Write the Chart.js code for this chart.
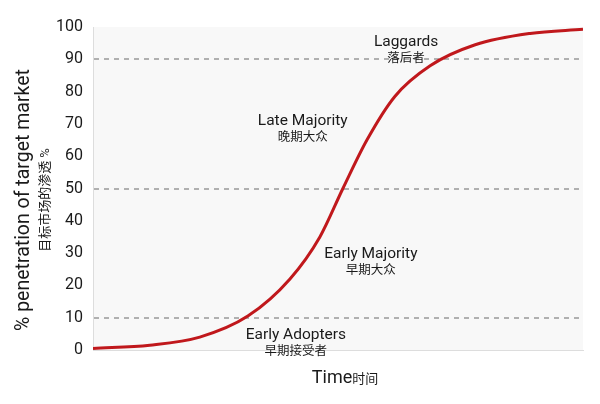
<!DOCTYPE html>
<html>
<head>
<meta charset="utf-8">
<script src="https://cdn.jsdelivr.net/npm/chart.js@4"></script>
<style>
  html, body { margin: 0; padding: 0; background: #fff; }
  #wrap { width: 600px; height: 404px; }
</style>
</head>
<body>
<div id="wrap"><canvas id="c"></canvas></div>
<script>
// tempo (0-100) e penetração (%)
const timeX = [0, 11.6, 21.8, 31.6, 40.2, 46.3, 51, 55.9, 61.6, 68.8, 78, 89.2, 100];
const penetration = [0.5, 1.5, 4, 10.5, 22, 35, 50, 65, 78.5, 88, 94.5, 98, 99.3];
const yTicks = [0, 10, 20, 30, 40, 50, 60, 70, 80, 90, 100];
const dashedAt = [10, 50, 90];

const stageEn = ["Laggards", "Late Majority", "Early Majority", "Early Adopters"];
const stageCn = ["落后者", "晚期大众", "早期大众", "早期接受者"];
const stagePos = [[63.9, 95.4], [42.8, 70.9], [56.7, 29.7], [41.4, 4.6]];

const FONT = "Roboto, 'Noto Sans CJK SC', sans-serif";

const decor = {
  id: "decor",
  beforeDraw(chart){
    const { ctx, chartArea: a } = chart;
    ctx.save();
    ctx.fillStyle = "#f8f8f8";
    ctx.fillRect(a.left, a.top, a.right - a.left, a.bottom - a.top);
    ctx.restore();
  },
  afterDraw(chart){
    const { ctx, scales: { x, y } } = chart;
    ctx.save();
    ctx.fillStyle = "#1a1a1a";
    ctx.textAlign = "center";
    ctx.textBaseline = "middle";
    stageEn.forEach((t, i) => {
      const px = x.getPixelForValue(stagePos[i][0]);
      const py = y.getPixelForValue(stagePos[i][1]);
      ctx.font = `15.5px ${FONT}`;
      ctx.fillText(t, px, py);
      ctx.font = `12.5px ${FONT}`;
      ctx.fillText(stageCn[i], px, py + 17);
    });

    // título do eixo x
    ctx.font = `18px ${FONT}`;
    const w1 = ctx.measureText("Time").width;
    ctx.font = `13px ${FONT}`;
    const w2 = ctx.measureText("时间").width;
    const sx = 345 - (w1 + w2) / 2;
    ctx.textAlign = "left";
    ctx.textBaseline = "alphabetic";
    ctx.font = `18px ${FONT}`;
    ctx.fillText("Time", sx, 383);
    ctx.font = `13px ${FONT}`;
    ctx.fillText("时间", sx + w1, 383);

    // título do eixo y
    ctx.translate(24, 200);
    ctx.rotate(-Math.PI / 2);
    ctx.textAlign = "center";
    ctx.textBaseline = "middle";
    ctx.font = `19.5px ${FONT}`;
    ctx.fillText("% penetration of target market", 0, 0);
    ctx.font = `13px ${FONT}`;
    ctx.fillText("目标市场的渗透 %", 0, 22);
    ctx.restore();
  }
};

new Chart(document.getElementById("c"), {
  type: "line",
  data: {
    datasets: [{
      data: timeX.map((t, i) => ({ x: t, y: penetration[i] })),
      borderColor: "#c0181c",
      borderWidth: 3,
      pointRadius: 0,
      cubicInterpolationMode: "monotone",
      fill: false,
    }],
  },
  options: {
    responsive: true,
    maintainAspectRatio: false,
    animation: false,
    layout: { padding: { top: 27, right: 17, left: 0, bottom: 0 } },
    plugins: { legend: { display: false }, tooltip: { enabled: false } },
    scales: {
      x: {
        type: "linear", min: 0, max: 100,
        ticks: { display: false },
        grid: { display: false },
        border: { color: "#dddddd", width: 1 },
        afterFit: s => { s.height = 54; },
      },
      y: {
        min: 0, max: 100,
        afterBuildTicks: s => { s.ticks = yTicks.map(v => ({ value: v })); },
        ticks: { color: "#1a1a1a", font: { size: 16, family: FONT }, padding: 10 },
        grid: {
          color: c => dashedAt.includes(c.tick.value) ? "#b0b0b0" : "transparent",
          lineWidth: 2,
          drawTicks: false,
        },
        border: { color: "#dddddd", width: 1, dash: [5, 5] },
        afterFit: s => { s.width = 93; },
      },
    },
  },
  plugins: [decor],
});
</script>
</body>
</html>
